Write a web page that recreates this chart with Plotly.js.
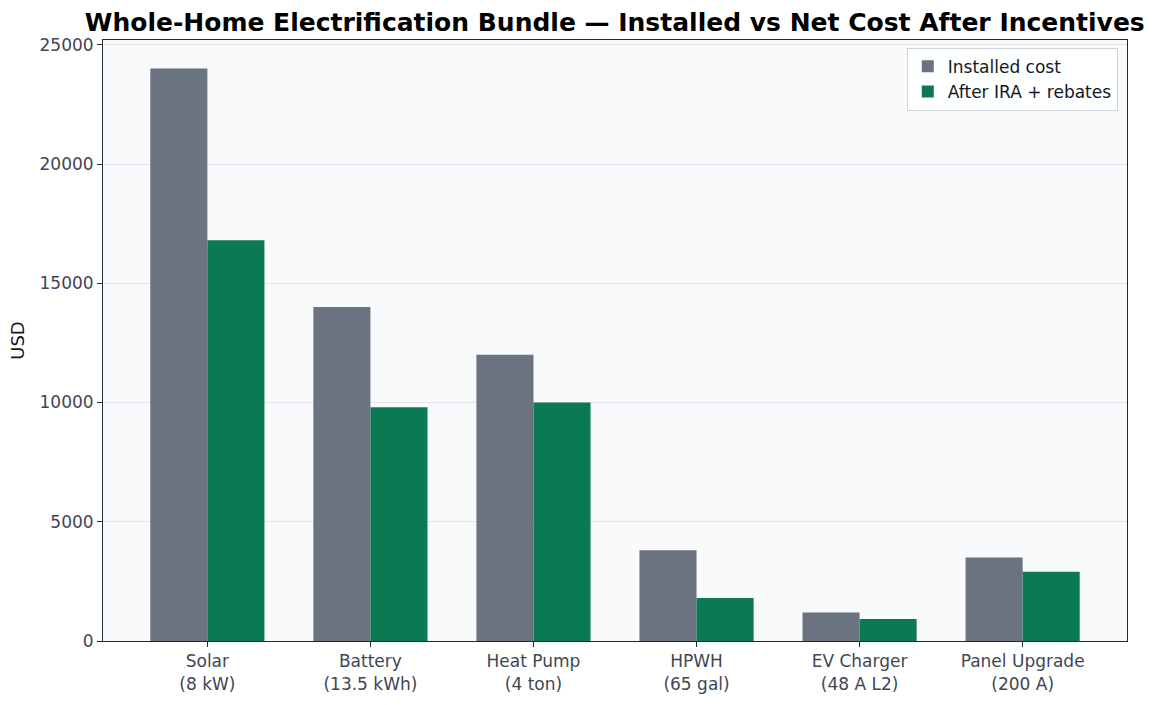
<!DOCTYPE html>
<html>
<head>
<meta charset="utf-8">
<script src="https://cdn.plot.ly/plotly-3.0.1.min.js"></script>
<style>
  html, body { margin: 0; padding: 0; background: #ffffff; }
  #chart { width: 1160px; height: 705px; }
</style>
</head>
<body>
<div id="chart"></div>
<script>
// categories and values
var categories = ['Solar<br>(8 kW)', 'Battery<br>(13.5 kWh)', 'Heat Pump<br>(4 ton)',
                  'HPWH<br>(65 gal)', 'EV Charger<br>(48 A L2)', 'Panel Upgrade<br>(200 A)'];
var installedCost = [24000, 14000, 12000, 3800, 1200, 3500];
var netCost = [16800, 9800, 10000, 1800, 920, 2900];
var yTicks = [0, 5000, 10000, 15000, 20000, 25000];

var xpos = categories.map(function (c, i) { return i; });

var trace1 = {
  x: xpos,
  y: installedCost,
  name: 'Installed cost',
  type: 'bar',
  width: 0.35,
  offset: -0.35,
  marker: { color: '#6b7280', line: { width: 0 } },
  hoverinfo: 'y'
};

var trace2 = {
  x: xpos,
  y: netCost,
  name: 'After IRA + rebates',
  type: 'bar',
  width: 0.35,
  offset: 0,
  marker: { color: '#0b7a53', line: { width: 0 } },
  hoverinfo: 'y'
};

var layout = {
  width: 1160,
  height: 705,
  font: { family: 'DejaVu Sans, sans-serif', size: 17, color: '#374151' },
  paper_bgcolor: '#ffffff',
  plot_bgcolor: '#f8fafc',
  margin: { l: 103, r: 33, t: 40, b: 64 },
  title: {
    text: '<b>Whole-Home Electrification Bundle — Installed vs Net Cost After Incentives</b>',
    font: { family: 'DejaVu Sans, sans-serif', size: 25, color: '#000000' },
    x: 0.53, xanchor: 'center',
    y: 0.968, yanchor: 'middle'
  },
  barmode: 'overlay',
  showlegend: true,
  legend: {
    x: 0.991, xanchor: 'right',
    y: 0.987, yanchor: 'top',
    bgcolor: 'rgba(255,255,255,0.85)',
    bordercolor: '#d1d5db',
    borderwidth: 1,
    font: { size: 17, color: '#111827' },
    traceorder: 'normal'
  },
  xaxis: {
    range: [-0.64, 5.64],
    tickmode: 'array',
    tickvals: xpos,
    ticktext: categories,
    ticks: 'outside',
    ticklen: 5,
    tickcolor: '#1f2937',
    showgrid: false,
    zeroline: false,
    showline: true,
    linecolor: '#1f2937',
    linewidth: 1,
    mirror: true,
    tickfont: { size: 17, color: '#3f4654' }
  },
  yaxis: {
    range: [0, 25200],
    tickmode: 'array',
    tickvals: yTicks,
    ticktext: yTicks.map(String),
    ticks: 'outside',
    ticklen: 5,
    tickcolor: '#1f2937',
    showgrid: true,
    gridcolor: '#e2e5ea',
    gridwidth: 1,
    zeroline: false,
    showline: true,
    linecolor: '#1f2937',
    linewidth: 1,
    mirror: true,
    tickfont: { size: 17, color: '#3f4654' },
    title: { text: 'USD', font: { size: 18, color: '#111827' }, standoff: 10 }
  }
};

Plotly.newPlot('chart', [trace1, trace2], layout, { displayModeBar: false, staticPlot: true });
</script>
</body>
</html>
